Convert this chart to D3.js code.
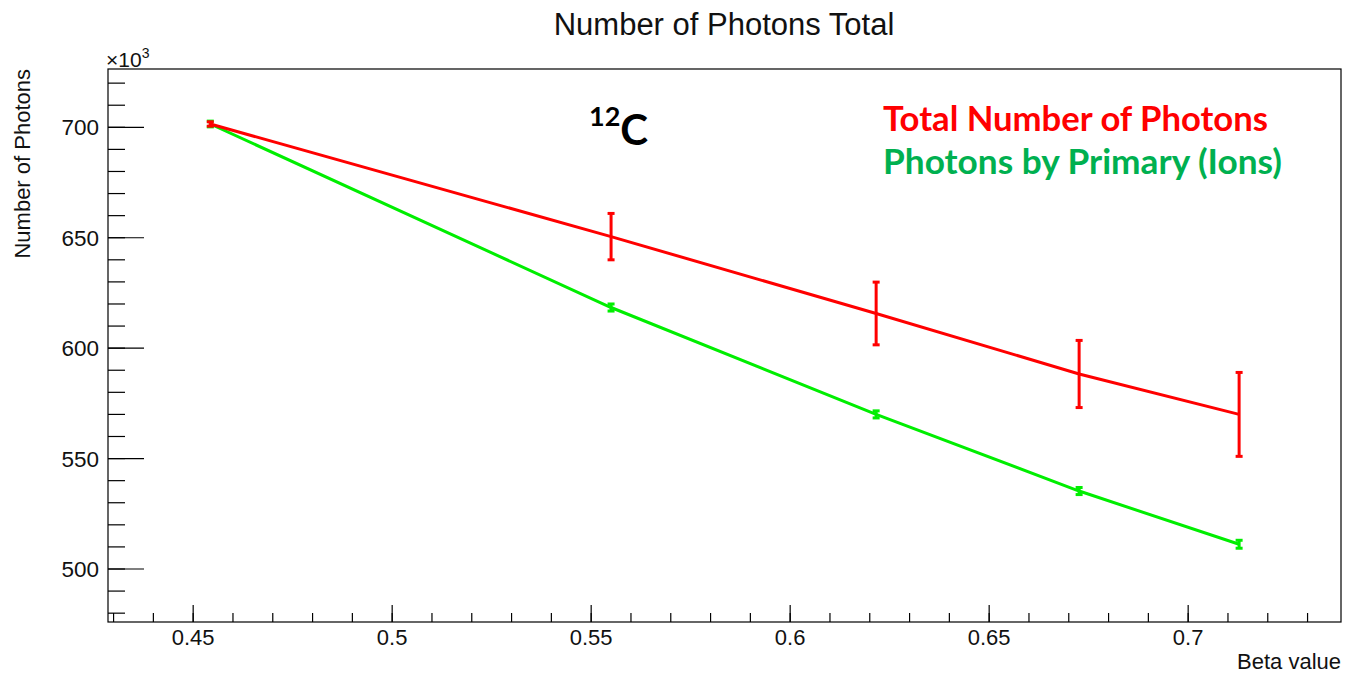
<!DOCTYPE html>
<html><head><meta charset="utf-8">
<script src="https://cdn.jsdelivr.net/npm/d3@7"></script>
<style>body{margin:0;background:#fff}svg{display:block}</style>
</head><body>
<script>
// Data (y in units of 10^3)
const betaValues = [0.4543, 0.555, 0.6216, 0.6726, 0.7128];
const totalPhotons = [701.5, 650.5, 615.7, 588.3, 570.0];
const totalErr = [1.0, 10.5, 14.2, 15.2, 19.0];
const primaryPhotons = [701.5, 618.4, 570.0, 535.3, 511.2];
const primaryErr = [1.3, 1.6, 1.6, 1.6, 1.8];
const xTicks = [0.45, 0.5, 0.55, 0.6, 0.65, 0.7];
const yTicks = [500, 550, 600, 650, 700];

const W = 1345, H = 674;
const m = {left: 108, right: 1341, top: 69, bottom: 622};
const svg = d3.select("body").append("svg").attr("width", W).attr("height", H);

const x = d3.scaleLinear().domain([0.4286, 0.7384]).range([m.left, m.right]);
const y = d3.scaleLinear().domain([476.0, 726.4]).range([m.bottom, m.top]);

const font = "'Liberation Sans', Arial, Helvetica, sans-serif";

// frame
svg.append("rect").attr("x", m.left).attr("y", m.top)
  .attr("width", m.right - m.left).attr("height", m.bottom - m.top)
  .attr("fill", "none").attr("stroke", "#000").attr("stroke-width", 1.2);

// X axis ticks
const xMinor = d3.range(0.43, 0.7384, 0.01);
const xa = svg.append("g");
xa.selectAll("line.minor").data(xMinor).join("line")
  .attr("x1", d => x(d)).attr("x2", d => x(d))
  .attr("y1", m.bottom).attr("y2", m.bottom - 9)
  .attr("stroke", "#000").attr("stroke-width", 1.2);
xa.selectAll("line.major").data(xTicks).join("line")
  .attr("x1", d => x(d)).attr("x2", d => x(d))
  .attr("y1", m.bottom).attr("y2", m.bottom - 17)
  .attr("stroke", "#000").attr("stroke-width", 1.2);
xa.selectAll("text").data(xTicks).join("text")
  .attr("x", d => x(d)).attr("y", 645)
  .attr("text-anchor", "middle").attr("font-family", font).attr("font-size", 22)
  .attr("fill", "#111").text(d => String(d));

// Y axis ticks
const yMinor = d3.range(480, 727, 10);
const ya = svg.append("g");
ya.selectAll("line.minor").data(yMinor).join("line")
  .attr("x1", m.left).attr("x2", m.left + 17)
  .attr("y1", d => y(d)).attr("y2", d => y(d))
  .attr("stroke", "#000").attr("stroke-width", 1.2);
ya.selectAll("line.major").data(yTicks).join("line")
  .attr("x1", m.left).attr("x2", m.left + 36)
  .attr("y1", d => y(d)).attr("y2", d => y(d))
  .attr("stroke", "#000").attr("stroke-width", 1.2);
ya.selectAll("text").data(yTicks).join("text")
  .attr("x", 99).attr("y", d => y(d) + 8)
  .attr("text-anchor", "end").attr("font-family", font).attr("font-size", 22.5)
  .attr("fill", "#111").text(d => d);

// exponent
const ex = svg.append("text").attr("x", 106).attr("y", 67)
  .attr("font-family", font).attr("font-size", 21).attr("fill", "#111");
ex.append("tspan").text("\u00d710");
ex.append("tspan").attr("dy", -9).attr("font-size", 14).text("3");

// titles
svg.append("text").attr("x", 724).attr("y", 35).attr("text-anchor", "middle")
  .attr("font-family", font).attr("font-size", 31).attr("fill", "#111")
  .text("Number of Photons Total");
svg.append("text").attr("transform", "translate(30,69) rotate(-90)")
  .attr("text-anchor", "end").attr("font-family", font).attr("font-size", 22)
  .attr("fill", "#111").text("Number of Photons");
svg.append("text").attr("x", 1341).attr("y", 669).attr("text-anchor", "end")
  .attr("font-family", font).attr("font-size", 22).attr("fill", "#111")
  .text("Beta value");

// series
function drawSeries(vals, errs, color) {
  const pts = betaValues.map((b, i) => ({b, v: vals[i], e: errs[i]}));
  const line = d3.line().x(d => x(d.b)).y(d => y(d.v));
  const g = svg.append("g");
  g.append("path").attr("d", line(pts)).attr("fill", "none")
    .attr("stroke", color).attr("stroke-width", 3);
  g.selectAll("line.err").data(pts).join("line")
    .attr("x1", d => x(d.b)).attr("x2", d => x(d.b))
    .attr("y1", d => y(d.v - d.e)).attr("y2", d => y(d.v + d.e))
    .attr("stroke", color).attr("stroke-width", 3);
  g.selectAll("line.capt").data(pts).join("line")
    .attr("x1", d => x(d.b) - 3.5).attr("x2", d => x(d.b) + 3.5)
    .attr("y1", d => y(d.v + d.e)).attr("y2", d => y(d.v + d.e))
    .attr("stroke", color).attr("stroke-width", 3);
  g.selectAll("line.capb").data(pts).join("line")
    .attr("x1", d => x(d.b) - 3.5).attr("x2", d => x(d.b) + 3.5)
    .attr("y1", d => y(d.v - d.e)).attr("y2", d => y(d.v - d.e))
    .attr("stroke", color).attr("stroke-width", 3);
}
drawSeries(primaryPhotons, primaryErr, "#00ee00");
drawSeries(totalPhotons, totalErr, "#ff0000");

// annotations
const bfont = "Lato, 'Open Sans', sans-serif";
const c = svg.append("text").attr("x", 589).attr("y", 145)
  .attr("font-family", bfont).attr("font-weight", "bold").attr("fill", "#000");
c.append("tspan").attr("font-size", 27).attr("dy", -19).text("12");
c.append("tspan").attr("font-size", 42).attr("dy", 19).text("C");

svg.append("text").attr("x", 883).attr("y", 131)
  .attr("font-family", bfont).attr("font-weight", "bold").attr("font-size", 34)
  .attr("textLength", 385).attr("lengthAdjust", "spacingAndGlyphs")
  .attr("fill", "#ff0000").text("Total Number of Photons");
svg.append("text").attr("x", 883).attr("y", 174)
  .attr("font-family", bfont).attr("font-weight", "bold").attr("font-size", 34)
  .attr("textLength", 399).attr("lengthAdjust", "spacingAndGlyphs")
  .attr("fill", "#00b050").text("Photons by Primary (Ions)");
</script>
</body></html>
